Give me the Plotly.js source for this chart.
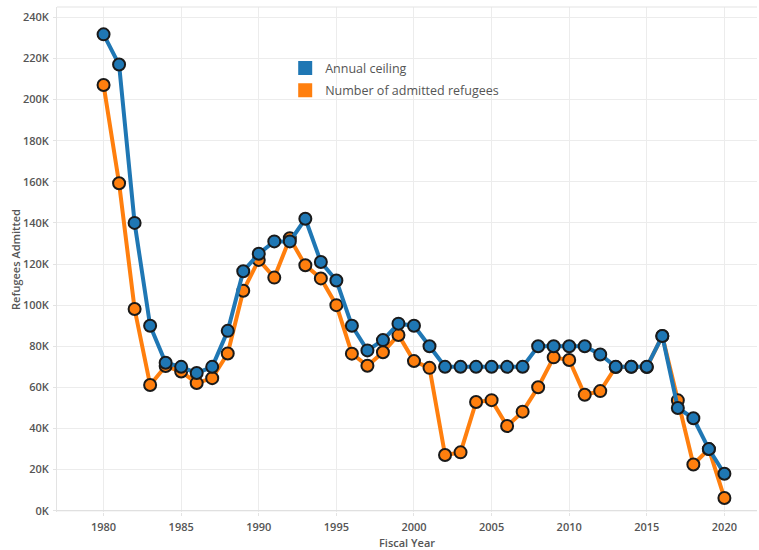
<!DOCTYPE html>
<html>
<head>
<meta charset="utf-8">
<script src="https://cdn.plot.ly/plotly-3.0.1.min.js"></script>
<style>html,body{margin:0;padding:0;background:#fff;}#chart{width:759px;height:550px;}</style>
</head>
<body>
<div id="chart"></div>
<script>
const years = [1980,1981,1982,1983,1984,1985,1986,1987,1988,1989,1990,1991,1992,1993,1994,1995,1996,1997,1998,1999,2000,2001,2002,2003,2004,2005,2006,2007,2008,2009,2010,2011,2012,2013,2014,2015,2016,2017,2018,2019,2020];
const annualCeiling = [231700,217000,140000,90000,72000,70000,67000,70000,87500,116500,125000,131000,131000,142000,121000,112000,90000,78000,83000,91000,90000,80000,70000,70000,70000,70000,70000,70000,80000,80000,80000,80000,76000,70000,70000,70000,85000,50000,45000,30000,18000];
const admitted = [207100,159300,98100,61200,70400,67700,62100,64500,76500,107000,122000,113400,132500,119400,113000,100000,76400,70500,77100,85500,72800,69500,27100,28400,52900,53800,41200,48200,60100,74600,73300,56400,58200,69900,70000,69900,85000,53700,22500,30000,6200];
const yTickVals = [0,20000,40000,60000,80000,100000,120000,140000,160000,180000,200000,220000,240000];
const yTickText = ["0K","20K","40K","60K","80K","100K","120K","140K","160K","180K","200K","220K","240K"];
const xTickVals = [1980,1985,1990,1995,2000,2005,2010,2015,2020];
const seriesNames = ["Annual ceiling","Number of admitted refugees"];
const colors = ["#1f77b4","#ff7f0e"];

const FONT = "Open Sans, sans-serif";
const traces = [
  {x: years, y: admitted, name: seriesNames[1], mode: "lines+markers", showlegend: false,
   line: {color: colors[1], width: 4},
   marker: {color: colors[1], size: 12, line: {color: "#1a1a1a", width: 2}}},
  {x: years, y: annualCeiling, name: seriesNames[0], mode: "lines+markers", showlegend: false,
   line: {color: colors[0], width: 4},
   marker: {color: colors[0], size: 12, line: {color: "#1a1a1a", width: 2}}},
  {x: [null], y: [null], name: seriesNames[0], mode: "markers", showlegend: true, legendgroup: "a",
   marker: {color: colors[0], symbol: "square", size: 14}},
  {x: [null], y: [null], name: seriesNames[1], mode: "markers", showlegend: true, legendgroup: "b",
   marker: {color: colors[1], symbol: "square", size: 14}}
];

const layout = {
  width: 759, height: 550,
  margin: {l: 57, r: 2, t: 7, b: 38},
  paper_bgcolor: "#fff", plot_bgcolor: "#fff",
  font: {family: FONT, color: "#555"},
  showlegend: true,
  legend: {x: 0.326, y: 0.908, xanchor: "left", yanchor: "top", bgcolor: "rgba(0,0,0,0)",
           font: {size: 12.5, color: "#555", family: FONT}, itemwidth: 30, tracegroupgap: 3},
  xaxis: {
    range: [1977, 2022.1], tickvals: xTickVals, ticks: "outside", ticklen: 3, tickcolor: "#e3e3e3", showline: false,
    showgrid: true, gridcolor: "#ececec", gridwidth: 1, zeroline: false,
    tickfont: {size: 11, color: "#555", weight: 600}, ticklabelstandoff: 2,
    title: {text: "Fiscal Year", font: {size: 11, color: "#555", weight: 600}, standoff: 9}
  },
  yaxis: {
    range: [-600, 245000], tickvals: yTickVals, ticktext: yTickText, ticks: "outside", ticklen: 3, tickcolor: "#e3e3e3",
    showgrid: true, gridcolor: "#ececec", gridwidth: 1, zeroline: false,
    showline: true, linecolor: "#e3e3e3", mirror: false,
    tickfont: {size: 11, color: "#555", weight: 600}, ticklabelstandoff: 2,
    title: {text: "Refugees Admitted", font: {size: 11, color: "#555", weight: 600}, standoff: 0}
  },
  shapes: [
    {type: "line", xref: "paper", yref: "paper", x0: 0, x1: 1, y0: 1, y1: 1, line: {color: "#e3e3e3", width: 1}},
    {type: "line", xref: "paper", yref: "y", x0: 0, x1: 1, y0: 0, y1: 0, line: {color: "#dcdcdc", width: 1}}
  ]
};
Plotly.newPlot("chart", traces, layout, {displayModeBar: false, staticPlot: true});
</script>
</body>
</html>
